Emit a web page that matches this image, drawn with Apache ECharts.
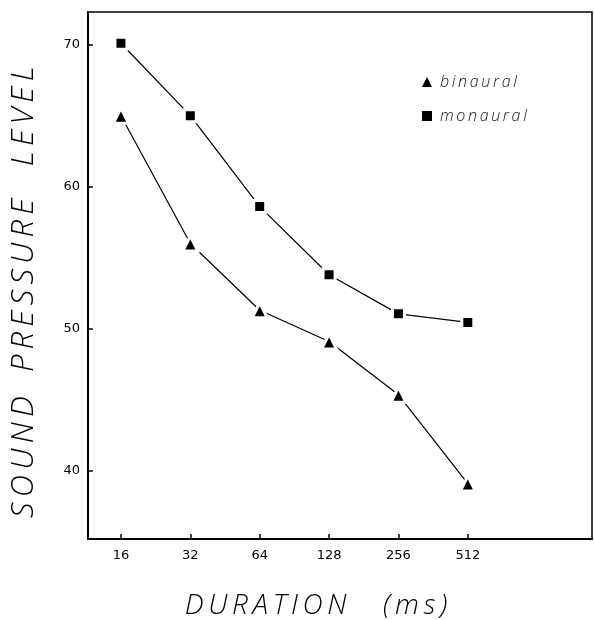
<!DOCTYPE html>
<html>
<head>
<meta charset="utf-8">
<script src="https://cdn.jsdelivr.net/npm/echarts@6/dist/echarts.min.js"></script>
<style>
  html, body { margin: 0; padding: 0; background: #fff; }
  #main { width: 594px; height: 620px; }
</style>
</head>
<body>
<div id="main"></div>
<script>
// durations in ms, plotted on a log2 scale
var durations = [16, 32, 64, 128, 256, 512];
var binaural = [65.0, 56.0, 51.3, 49.1, 45.35, 39.1];
var monaural = [70.1, 65.0, 58.6, 53.8, 51.05, 50.45];
var yTicks = [40, 50, 60, 70];

function pairs(vals)
{
    return durations.map(function (d, i) {
        return [Math.log2(d), vals[i]];
    });
}

// spread letters out like the stencil lettering of the original
function spaced(s)
{
    return s.split('').join('\u2009');
}

var myChart = echarts.init(document.getElementById('main'));

var lightFont = 'Open Sans';

option = {
    animation: false,
    backgroundColor: '#fff',
    grid: {
        left: 88, right: 2, top: 12, bottom: 81,
        show: true, borderColor: '#000', borderWidth: 1.5
    },
    legend: {
        orient: 'vertical',
        left: 417, top: 69,
        itemWidth: 10, itemHeight: 10, itemGap: 18,
        data: [
            {name: 'binaural', icon: 'triangle'},
            {name: 'monaural', icon: 'rect'}
        ],
        itemStyle: {color: '#000', borderWidth: 0},
        formatter: function (name) { return spaced(name); },
        textStyle: {
            color: '#111', fontStyle: 'italic', fontFamily: lightFont,
            fontWeight: 300, fontSize: 16, padding: [0, 0, 0, 3]
        }
    },
    xAxis: {
        type: 'value',
        min: 3.525, max: 10.79,
        splitLine: {show: false},
        axisLine: {lineStyle: {color: '#000', width: 2}},
        axisTick: {
            inside: true, length: 5, lineStyle: {color: '#000', width: 1.5},
            customValues: durations.map(Math.log2)
        },
        axisLabel: {
            customValues: durations.map(Math.log2),
            formatter: function (v) { return String(Math.round(Math.pow(2, v))); },
            color: '#000', fontFamily: 'DejaVu Sans', fontSize: 13, margin: 10
        }
    },
    yAxis: {
        type: 'value',
        min: 35.2, max: 72.3,
        splitLine: {show: false},
        axisLine: {lineStyle: {color: '#000', width: 2}},
        axisTick: {
            inside: true, length: 5, lineStyle: {color: '#000', width: 1.5},
            customValues: yTicks
        },
        axisLabel: {
            customValues: yTicks,
            color: '#000', fontFamily: 'DejaVu Sans', fontSize: 13, margin: 8
        }
    },
    graphic: [
        {
            type: 'text',
            x: 24, y: 292,
            rotation: Math.PI / 2,
            style: {
                text: spaced('SOUND') + '   ' + spaced('PRESSURE') + '    ' + spaced('LEVEL'),
                fontFamily: lightFont, fontWeight: 300, fontStyle: 'italic',
                fontSize: 31, fill: '#000',
                textAlign: 'center', textVerticalAlign: 'middle'
            }
        },
        {
            type: 'text',
            x: 316, y: 606,
            style: {
                text: spaced('DURATION') + '     ' + spaced('(ms)'),
                fontFamily: lightFont, fontWeight: 300, fontStyle: 'italic',
                fontSize: 28, fill: '#000',
                textAlign: 'center', textVerticalAlign: 'middle'
            }
        }
    ],
    series: [
        {
            name: 'binaural',
            type: 'line',
            data: pairs(binaural),
            symbol: 'triangle', symbolSize: 15,
            itemStyle: {color: '#000', borderColor: '#fff', borderWidth: 3},
            lineStyle: {color: '#000', width: 1.2}
        },
        {
            name: 'monaural',
            type: 'line',
            data: pairs(monaural),
            symbol: 'rect', symbolSize: 12,
            itemStyle: {color: '#000', borderColor: '#fff', borderWidth: 3},
            lineStyle: {color: '#000', width: 1.2}
        }
    ]
};

myChart.setOption(option);
</script>
</body>
</html>
